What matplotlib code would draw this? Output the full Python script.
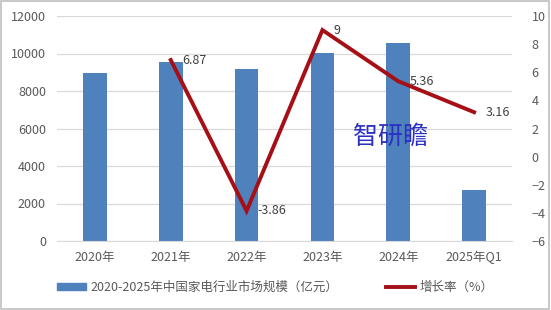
import matplotlib
matplotlib.use("Agg")
import matplotlib.pyplot as plt
from matplotlib.patches import Rectangle
from matplotlib.lines import Line2D

plt.rcParams['font.family'] = ['Noto Sans CJK SC', 'DejaVu Sans']

categories = ["2020年", "2021年", "2022年", "2023年", "2024年", "2025年Q1"]
market_size = [8960, 9550, 9180, 10030, 10560, 2700]
growth_cats = ["2021年", "2022年", "2023年", "2024年", "2025年Q1"]
growth = [6.87, -3.86, 9, 5.36, 3.16]
growth_labels = ["6.87", "-3.86", "9", "5.36", "3.16"]

bar_name = "2020-2025年中国家电行业市场规模（亿元）"
line_name = "增长率（%）"

fig = plt.figure(figsize=(5.51, 3.10), dpi=100)
ax = fig.add_axes([57/551, 1-241/310, (512-57)/551, (241-16)/310])
ax2 = ax.twinx()

x = list(range(len(categories)))
bar_color = "#4F81BD"
ax.bar(x, market_size, width=0.31, color=bar_color, zorder=2)
ax.set_ylim(0, 12000)
ax.set_yticks(range(0, 12001, 2000))
ax.set_xlim(-0.5, len(categories) - 0.5)
ax.set_xticks(x)
ax.set_xticklabels(categories)
ax.yaxis.grid(True, color="#D9D9D9", lw=0.9, zorder=0)
ax.set_axisbelow(True)

gx = [categories.index(c) for c in growth_cats]
line_color = "#A50F15"
ax2.plot(gx, growth, color=line_color, lw=2.8, zorder=3, solid_joinstyle='miter')
ax2.set_ylim(-6, 10)
ax2.set_yticks(range(-6, 11, 2))
for xi, v, lab in zip(gx, growth, growth_labels):
    ax2.annotate(lab, (xi, v), xytext=(8, 0), textcoords="offset points",
                 ha="left", va="center", fontsize=9, color="#404040")

for a in (ax, ax2):
    for s in a.spines.values():
        s.set_visible(False)
    a.tick_params(length=0, labelsize=9, colors="#595959")
ax.tick_params(axis='x', pad=7)
ax.tick_params(axis='y', pad=8)
ax2.tick_params(axis='y', pad=14)
ax.spines['bottom'].set_visible(True)
ax.spines['bottom'].set_color("#D9D9D9")

fig.text(390/551, 1-137/310, "智研瞻", fontsize=18, color="#2B2FC2",
         ha="center", va="center")

handles = [Rectangle((0, 0), 1, 1, color=bar_color),
           Line2D([0], [0], color=line_color, lw=2.8)]
fig.legend(handles, [bar_name, line_name], loc="center left",
           bbox_to_anchor=(52/551, 1-287/310), borderaxespad=0, ncol=2,
           frameon=False, fontsize=9, labelcolor="#595959", handlelength=2.3,
           handleheight=0.5, columnspacing=3.8, handletextpad=0.4)

border = Rectangle((0.002, 0.004), 0.994, 0.992, transform=fig.transFigure,
                   fill=False, edgecolor="#BFBFBF", lw=1.2)
fig.patches.append(border)

fig.savefig("out.png", dpi=100)
